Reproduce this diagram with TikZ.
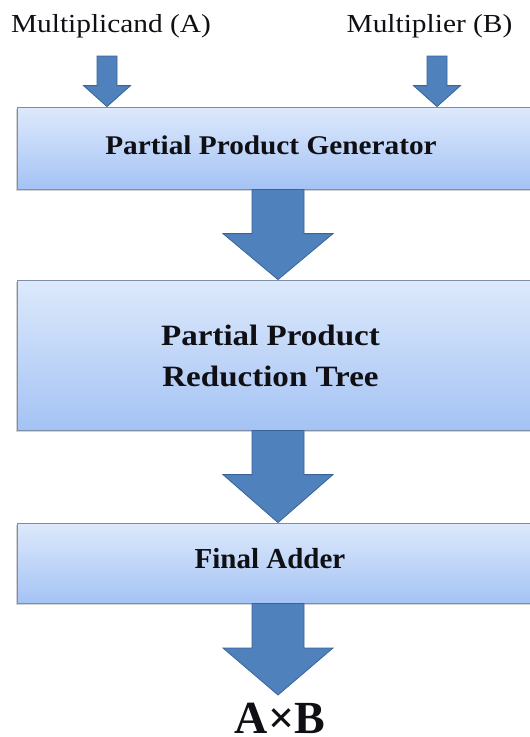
\documentclass[tikz,border=0pt]{standalone}
\usepackage{fontspec}
\usepackage{graphicx}
\setmainfont{Liberation Serif}
\usetikzlibrary{calc,shadows}

\definecolor{boxtop}{RGB}{221,233,252}
\definecolor{boxbot}{RGB}{164,195,244}
\definecolor{boxline}{RGB}{125,143,168}
\definecolor{arrowfill}{RGB}{79,129,189}
\definecolor{arrowline}{RGB}{58,100,152}
\definecolor{ink}{RGB}{15,15,20}

% horizontal stretch of a text
\newcommand\hstretch[2]{\scalebox{#1}[1]{#2}}

% block arrow: style, top point, tip point, shaft half width, head half width, head length
\newcommand\blockarrow[6]{%
  \path[#1] let \p1=#2, \p2=#3 in
    (\x2-#4pt,\y1) -- (\x2+#4pt,\y1) -- (\x2+#4pt,\y2+#6pt) -- (\x2+#5pt,\y2+#6pt)
    -- (\x2,\y2) -- (\x2-#5pt,\y2+#6pt) -- (\x2-#4pt,\y2+#6pt) -- cycle;}

\tikzset{
  stagebox/.style={draw=boxline, line width=0.8pt, top color=boxtop, bottom color=boxbot,
    minimum width=522pt, inner sep=0pt,
    drop shadow={shadow xshift=-0.8pt, shadow yshift=-2pt, opacity=0.35}},
  stagetext/.style={text=ink, font=\bfseries, inner sep=0pt},
  inlabel/.style={text=ink, inner sep=0pt, font=\fontsize{26}{30}\selectfont},
  flowarrow/.style={fill=arrowfill, draw=arrowline, line width=0.8pt, line join=miter},
}

\begin{document}
\begin{tikzpicture}[x=1pt, y=-1pt]
  \useasboundingbox (0,0) rectangle (530,737);
  \clip (0,0) rectangle (530,737);

  % stage boxes
  \node[stagebox, minimum height=82pt]  (ppg) at (278,148) {};
  \node[stagebox, minimum height=150pt] (ppr) at (278,355) {};
  \node[stagebox, minimum height=80pt]  (fa)  at (278,563) {};

  % stage titles
  \node[stagetext, anchor=base, font=\bfseries\fontsize{27}{32}\selectfont] (ppgtext) at (271,154)
    {\hstretch{1.085}{Partial Product Generator}};
  \node[stagetext, align=center, font=\bfseries\fontsize{29.5}{41}\selectfont] (pprtext) at (270.5,356)
    {\hstretch{1.12}{Partial Product}\\\hstretch{1.12}{Reduction Tree}};
  \node[stagetext, anchor=base, font=\bfseries\fontsize{29}{34}\selectfont] (fatext) at (270,568)
    {Final Adder};

  % inputs and result
  \node[inlabel, anchor=base] (mcand)  at (111,32)   {\hstretch{1.13}{Multiplicand (A)}};
  \node[inlabel, anchor=base] (mplier) at (429.5,32) {\hstretch{1.13}{Multiplier (B)}};
  \node[stagetext, anchor=base, font=\bfseries\fontsize{46}{50}\selectfont] (prod) at (280,733.5) {A×B};

  % arrow axes and free ends
  \coordinate (axis) at (278,0);
  \coordinate (ain)  at (107,56);
  \coordinate (bin)  at (437,56);
  \coordinate (out)  at (278,695);

  % input arrows
  \blockarrow{flowarrow}{(ain)}{(ain |- ppg.north)}{10}{23.5}{21}
  \blockarrow{flowarrow}{(bin)}{(bin |- ppg.north)}{10}{23.5}{21}

  % stage arrows
  \blockarrow{flowarrow}{(axis |- ppg.south)}{(axis |- ppr.north)}{26}{55}{46}
  \blockarrow{flowarrow}{(axis |- ppr.south)}{(axis |- fa.north)}{26}{55}{48}
  \blockarrow{flowarrow}{(axis |- fa.south)}{(out)}{26}{55}{47}
\end{tikzpicture}
\end{document}
